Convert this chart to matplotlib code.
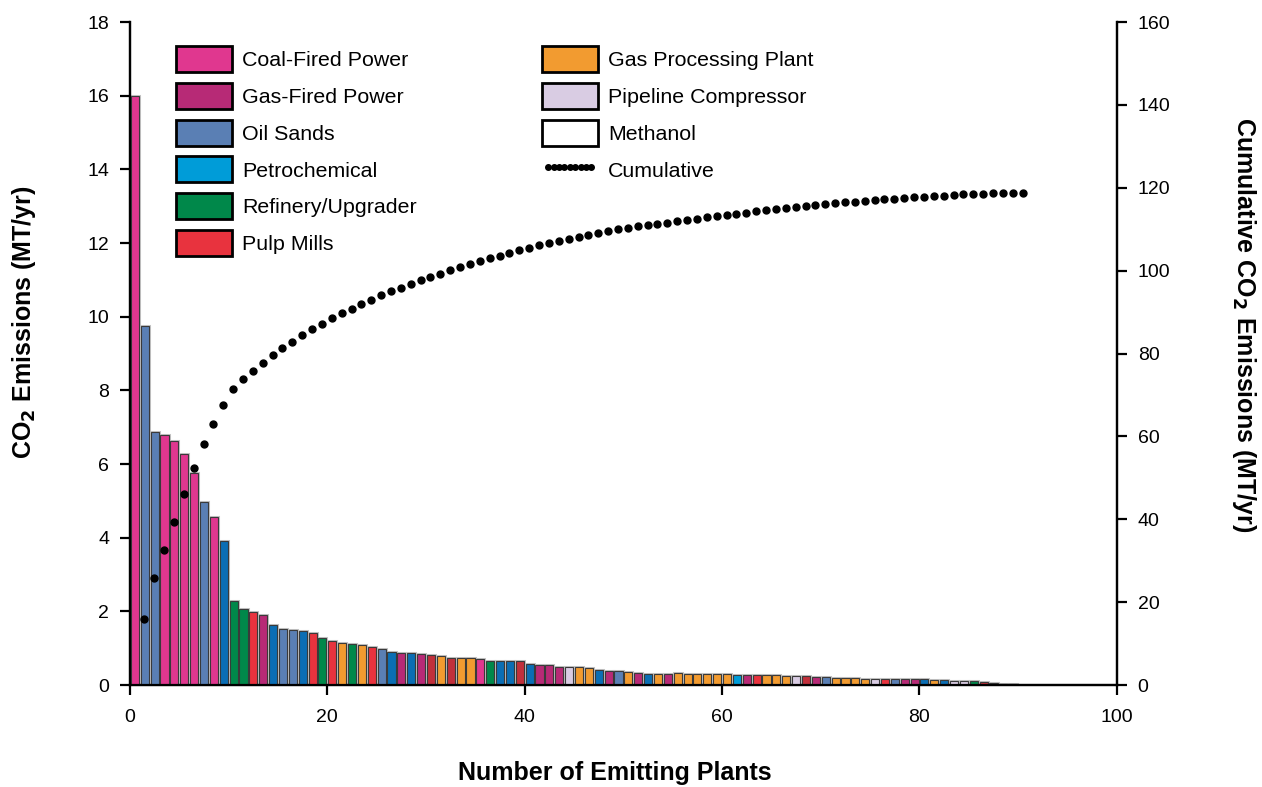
import matplotlib
matplotlib.use("Agg")
import matplotlib.pyplot as plt
from matplotlib.patches import Patch
from matplotlib.lines import Line2D
import numpy as np

plt.rcParams['font.family'] = ['Liberation Sans', 'DejaVu Sans']

# Category codes for each plant (bar), in order of decreasing emissions
# C coal, G gas-fired, O oil sands, P petrochemical (dark), B petrochemical (light),
# R refinery, M pulp mills, D pulp mills (dark), X gas processing, L pipeline, W methanol
plant_types = list("COOCCCCOCPRRMGPOOPMRMXRXMOPGPGDXDXXCRPPD"
                   "PGGGLXXPGOXGPXGXXXXXXBGMXXXLDGO"
                   "XXXXLMOGGPXPLLRDWWW")

emissions = [16.0, 9.74, 6.87, 6.80, 6.62, 6.27, 5.76, 4.97, 4.55, 3.92,
             2.28, 2.07, 1.98, 1.91, 1.63, 1.51, 1.48, 1.46, 1.40, 1.28,
             1.19, 1.13, 1.10, 1.09, 1.02, 0.97, 0.90, 0.88, 0.86, 0.85,
             0.81, 0.78, 0.74, 0.73, 0.73, 0.71, 0.64, 0.64, 0.64, 0.64,
             0.57, 0.55, 0.54, 0.50, 0.48, 0.48, 0.47, 0.42, 0.38, 0.37,
             0.35, 0.33, 0.31, 0.31, 0.31, 0.32, 0.31, 0.30, 0.29, 0.29,
             0.29, 0.28, 0.28, 0.28, 0.27, 0.27, 0.25, 0.24, 0.24, 0.23,
             0.22, 0.19, 0.185, 0.185, 0.175, 0.175, 0.165, 0.16, 0.16, 0.16,
             0.16, 0.14, 0.14, 0.12, 0.12, 0.10, 0.09, 0.05, 0.04, 0.04]

type_colors = {
    'C': '#E0378F', 'G': '#B72A76', 'O': '#5A7FB4', 'P': '#0B6EB4',
    'B': '#009CD8', 'R': '#00884A', 'M': '#E8333E', 'D': '#C1303B',
    'X': '#F29B30', 'L': '#D9CCE3', 'W': '#FFFFFF',
}

legend_col1 = [('Coal-Fired Power', '#E0378F'), ('Gas-Fired Power', '#B72A76'),
               ('Oil Sands', '#5A7FB4'), ('Petrochemical', '#009CD8'),
               ('Refinery/Upgrader', '#00884A'), ('Pulp Mills', '#E8333E')]
legend_col2 = [('Gas Processing Plant', '#F29B30'), ('Pipeline Compressor', '#D9CCE3'),
               ('Methanol', '#FFFFFF')]

x_ticks = [0, 20, 40, 60, 80, 100]
y_ticks = [0, 2, 4, 6, 8, 10, 12, 14, 16, 18]
y2_ticks = [0, 20, 40, 60, 80, 100, 120, 140, 160]

n = len(emissions)
xpos = np.arange(n) + 0.5
colors = [type_colors[t] for t in plant_types]
cumulative = np.cumsum(emissions)

fig = plt.figure(figsize=(12.62, 7.87), dpi=100)
ax = fig.add_axes([0.103, 0.1296, 0.782, 0.8424])

# halo + bars
ax.bar(xpos, emissions, width=0.82, color=colors, edgecolor='#c4c4c4', linewidth=2.2, zorder=2)
ax.bar(xpos, emissions, width=0.82, color=colors, edgecolor='#3a3a3a', linewidth=0.8, zorder=3)

ax.set_xlim(0, 100)
ax.set_ylim(0, 18)
ax.set_xticks(x_ticks)
ax.set_yticks(y_ticks)
ax.spines['top'].set_visible(False)
for s in ['left', 'bottom', 'right']:
    ax.spines[s].set_linewidth(1.6)
ax.tick_params(axis='both', direction='out', length=7, width=1.6, labelsize=14)
ax.tick_params(axis='y', pad=8)
ax.tick_params(axis='x', pad=10)

ax2 = ax.twinx()
ax2.set_ylim(0, 160)
ax2.set_yticks(y2_ticks)
ax2.spines['top'].set_visible(False)
for s in ['left', 'bottom', 'right']:
    ax2.spines[s].set_linewidth(1.6)
ax2.tick_params(axis='y', direction='out', length=7, width=1.6, labelsize=14, pad=8)
ax2.plot(np.arange(1, n + 1) + 0.45, cumulative, linestyle='none', marker='o',
         markersize=5, color='black', zorder=5)

fig.text(0.019, 0.591, 'CO$_\\mathbf{2}$ Emissions (MT/yr)', fontsize=18, fontweight='bold',
         rotation=90, ha='center', va='center')
fig.text(0.9857, 0.588, 'Cumulative CO$_\\mathbf{2}$ Emissions (MT/yr)', fontsize=18,
         fontweight='bold', rotation=-90, ha='center', va='center')
fig.text(0.4873, 0.0178, 'Number of Emitting Plants', fontsize=18, fontweight='bold',
         ha='center', va='center')

fs = 15.4
h1 = [Patch(facecolor=c, edgecolor='black', linewidth=2) for _, c in legend_col1]
l1 = [lab for lab, _ in legend_col1]
leg1 = ax2.legend(h1, l1, loc='upper left', bbox_to_anchor=(0.0466, 0.964), frameon=False,
                  borderpad=0, borderaxespad=0, fontsize=fs, handlelength=2.6,
                  handleheight=1.49, labelspacing=0.51, handletextpad=0.5)
ax2.add_artist(leg1)
h2 = [Patch(facecolor=c, edgecolor='black', linewidth=2) for _, c in legend_col2]
h2.append(Line2D([0], [0], linestyle='none', marker='o', markersize=4, color='black'))
l2 = [lab for lab, _ in legend_col2] + ['Cumulative']
leg2 = ax2.legend(h2, l2, loc='upper left', bbox_to_anchor=(0.4175, 0.964), frameon=False,
                  borderpad=0, borderaxespad=0, fontsize=fs, handlelength=2.6,
                  handleheight=1.49, labelspacing=0.51, handletextpad=0.5, numpoints=9)

fig.savefig('out.png', dpi=100)
